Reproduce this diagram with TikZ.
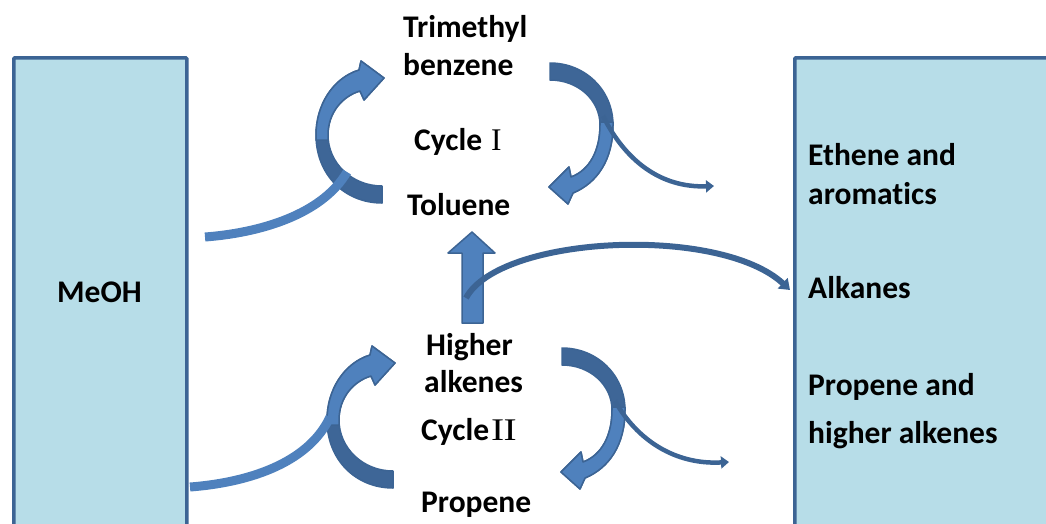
\documentclass[tikz,border=0pt]{standalone}
\usepackage{fontspec}
\setmainfont{Carlito}[Ligatures=NoCommon]
\newfontfamily\numfont{Liberation Serif}
\usetikzlibrary{arrows.meta}
\definecolor{boxfill}{HTML}{B7DDE8}
\definecolor{bord}{HTML}{3C6494}
\definecolor{lightb}{HTML}{4F81BD}
\definecolor{darkb}{HTML}{3E6697}
\newcommand{\cycleleft}{%
  \path[ribbon, fill=darkb] (382,186) .. controls (352,186) and (328,163) .. (328,135)
    .. controls (328,112) and (343,96) .. (360,91) -- (364,100) -- (384,78) -- (361,61) -- (359,70)
    .. controls (333,78) and (316,105) .. (316,135)
    .. controls (316,175) and (345,203) .. (382,203) -- cycle;
  \path[ribbon, fill=lightb] (328,140) -- (328,135)
    .. controls (328,112) and (343,96) .. (360,91) -- (364,100) -- (384,78) -- (361,61) -- (359,70)
    .. controls (333,78) and (316,105) .. (316,135) -- (316,140) -- cycle;
}
\newcommand{\cycleright}{%
  \path[ribbon, fill=darkb] (550,63) .. controls (585,63) and (613,90) .. (613,125)
    .. controls (613,160) and (597,183) .. (573,193) -- (568,204) -- (549,187) -- (569,167) -- (571,177)
    .. controls (590,170) and (600,150) .. (600,125)
    .. controls (600,100) and (578,80) .. (550,80) -- cycle;
  \path[ribbon, fill=lightb] (613,122) -- (613,125)
    .. controls (613,160) and (597,183) .. (573,193) -- (568,204) -- (549,187) -- (569,167) -- (571,177)
    .. controls (590,170) and (600,150) .. (600,125) -- (600,122) -- cycle;
}
\begin{document}
\begin{tikzpicture}[x=1pt,y=-1pt,
  lbl/.style={font=\bfseries\fontsize{31.5}{36}\selectfont, inner sep=0pt, anchor=base west},
  panel/.style={draw=bord, line width=3.5pt, fill=boxfill, rounded corners=1pt},
  ribbon/.style={draw=bord, line width=1.5pt, line join=round},
  feed/.style={draw=lightb, line width=9pt},
  thinarrow/.style={draw=bord, line width=4.5pt, -{Triangle[length=8pt,width=12pt]}}]
\useasboundingbox (0,0) rectangle (1046,523);
% side panels
\node[panel, minimum width=173pt, minimum height=480pt, anchor=north west, inner sep=0pt] (left) at (12,56) {};
\node[panel, minimum width=260pt, minimum height=480pt, anchor=north west, inner sep=0pt] (right) at (793,56) {};
% cycle I
\cycleleft
\cycleright
\coordinate (k1s) at (603,116);
\coordinate (k1e) at (714,186);
\draw[thinarrow] (k1s) .. controls (625,160) and (660,188) .. (k1e);
\coordinate (m1s) at (205,237);
\coordinate (m1e) at (347,172);
\draw[feed] (m1s) .. controls (270,232) and (325,210) .. (m1e);
% cycle II
\begin{scope}[shift={(11,285)}]
\cycleleft
\end{scope}
\begin{scope}[shift={(12,285)}]
\cycleright
\end{scope}
\coordinate (k2s) at (615,401);
\coordinate (k2e) at (729,462);
\draw[thinarrow] (k2s) .. controls (637,440) and (675,465) .. (k2e);
\coordinate (m2s) at (190,487);
\coordinate (m2e) at (330,417);
\draw[feed] (m2s) .. controls (255,482) and (310,460) .. (m2e);
% up arrow to Toluene
\path[ribbon, fill=lightb] (462,323) -- (462,253) -- (448,253) -- (472,232) -- (495,253) -- (483,253) -- (483,323) -- cycle;
\coordinate (a1s) at (466,298);
\coordinate (a1e) at (790,290);
\draw[draw=bord, line width=6pt, -{Triangle[length=10pt,width=14pt]}] (a1s) .. controls (500,235) and (720,225) .. (a1e);
% labels
\node[lbl] (tri) at (403,37) {Trimethyl};
\node[lbl] (benz) at (403,75) {benzene};
\node[lbl] (c1) at (414,150) {Cycle\hspace{9pt}{\numfont\mdseries I}};
\node[lbl] (tol) at (407,215) {Toluene};
\node[lbl] (meoh) at (57,302) {MeOH};
\node[lbl] (eth) at (808,165) {Ethene and};
\node[lbl] (aro) at (808,204) {aromatics};
\node[lbl] (alk) at (808,298) {Alkanes};
\node[lbl] (pro1) at (808,395) {Propene and};
\node[lbl] (pro2) at (808,443) {higher alkenes};
\node[lbl] (hig) at (426,355) {Higher};
\node[lbl] (alke) at (424,392) {alkenes};
\node[lbl] (c2) at (421,440) {Cycle\hspace{2pt}{\numfont\mdseries\scalebox{1.25}[1]{I\kern-0.5pt I}}};
\node[lbl] (prop) at (421,512) {Propene};
\end{tikzpicture}
\end{document}
